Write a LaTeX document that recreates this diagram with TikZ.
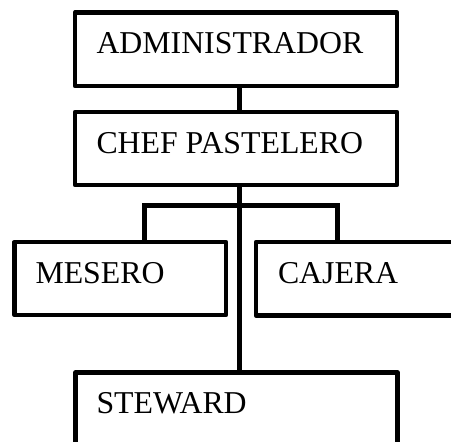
\documentclass[tikz,border=0pt]{standalone}
\usepackage{fontspec}
\setmainfont{Liberation Serif}
\begin{document}
\begin{tikzpicture}[x=1pt,y=-1pt,
  orgbox/.style={draw=black,line width=4.8pt,inner sep=0pt,outer sep=0pt,
    rectangle,anchor=north west,line join=round},
  orglabel/.style={anchor=base west,inner sep=0pt,outer sep=0pt,
    font=\fontsize{31.8}{36}\selectfont},
  link/.style={draw=black,line width=4.8pt}]
\useasboundingbox (0,0) rectangle (451,442);
\clip (0,0) rectangle (451,442);
% boxes
\node[orgbox,minimum width=322pt,minimum height=73.5pt] (admin) at (75,12.5) {};
\node[orgbox,minimum width=322pt,minimum height=73pt] (chef) at (75,112) {};
\node[orgbox,minimum width=211.5pt,minimum height=73pt] (mesero) at (14.5,242) {};
\node[orgbox,minimum width=220pt,minimum height=73.5pt] (cajera) at (256,242) {};
\node[orgbox,minimum width=322pt,minimum height=90pt] (steward) at (75.5,372.5) {};
% labels
\node[orglabel] (tadmin) at (96.5,53) {ADMINISTRADOR};
\node[orglabel] (tchef) at (96.5,153) {CHEF PASTELERO};
\node[orglabel] (tmesero) at (35.5,283) {MESERO};
\node[orglabel] (tcajera) at (278,283.5) {CAJERA};
\node[orglabel] (tsteward) at (96.5,413) {STEWARD};
% connectors
\coordinate (trunk) at (239.5,0);
\coordinate (barL) at (144.5,205.5);
\coordinate (barR) at (337.5,205.5);
\draw[link] (admin.south -| trunk) -- (chef.north -| trunk);
\draw[link] (chef.south -| trunk) -- (steward.north -| trunk);
\draw[link] (mesero.north -| barL) -- (barL) -- (barR) -- (cajera.north -| barR);
\end{tikzpicture}
\end{document}
